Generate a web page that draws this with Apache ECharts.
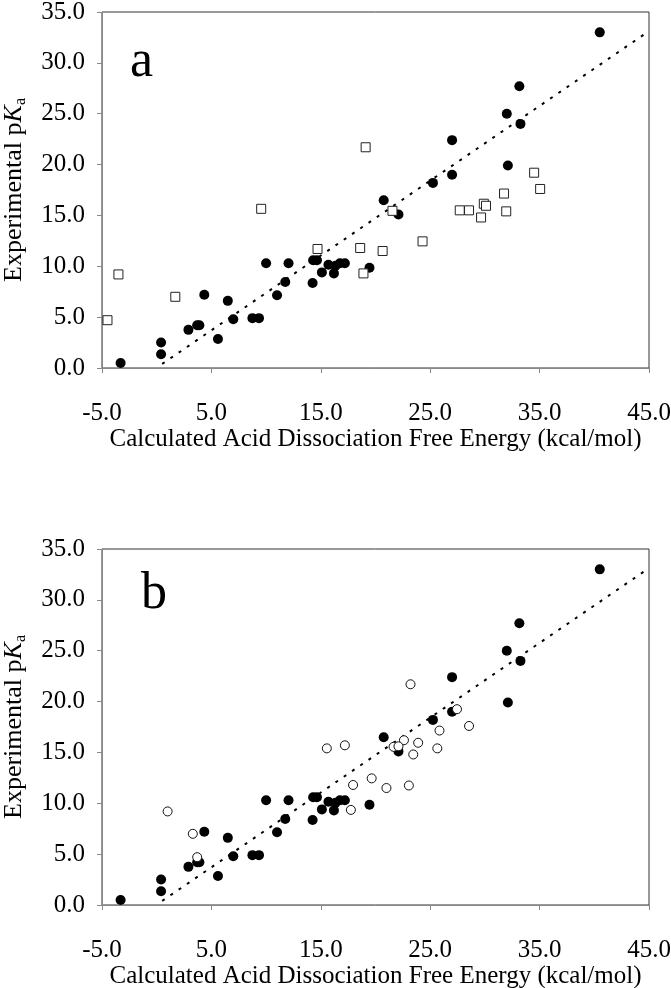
<!DOCTYPE html>
<html><head><meta charset="utf-8">
<script src="https://cdn.jsdelivr.net/npm/echarts@6/dist/echarts.min.js"></script>
<style>html,body{margin:0;padding:0;background:#fff}#c{width:671px;height:988px}</style>
</head><body><div id="c"></div>
<script>
// ---- data ----
const xTickValues = [-5, 5, 15, 25, 35, 45];
const yTickValues = [0, 5, 10, 15, 20, 25, 30, 35];
// filled circles (same in both panels)
const filledX = [-3.3, 0.4, 0.4, 2.9, 3.7, 3.9, 4.35, 5.6, 6.5, 7.0, 8.75, 9.35, 10.0, 11.0, 11.75, 12.05, 14.25, 14.3, 14.65, 15.1, 15.7, 16.2, 16.35, 16.75, 17.2, 19.45, 20.75, 22.1, 25.25, 27.0, 27.0, 32.0, 32.1, 33.15, 33.25, 40.5];
const filledY = [0.5, 2.5, 1.35, 3.75, 4.2, 4.2, 7.2, 2.85, 6.6, 4.8, 4.9, 4.9, 10.3, 7.15, 8.45, 10.3, 8.35, 10.6, 10.6, 9.4, 10.15, 9.3, 10.05, 10.3, 10.3, 9.85, 16.5, 15.1, 18.2, 19.0, 22.4, 25.0, 19.9, 27.7, 24.0, 33.0];
// panel a: open squares
const squareX = [-4.5, -3.5, 1.7, 9.55, 14.7, 18.6, 18.9, 19.1, 21.55, 24.3, 20.65, 27.7, 28.55, 29.9, 30.1, 29.65, 31.75, 31.95, 34.5, 35.05];
const squareY = [4.7, 9.2, 7.0, 15.65, 11.7, 11.8, 9.3, 21.7, 15.45, 12.45, 11.5, 15.5, 15.5, 16.15, 15.95, 14.8, 17.15, 15.4, 19.2, 17.6];
// panel b: open circles
const openX = [3.7, 1.0, 3.3, 15.55, 17.2, 17.95, 17.75, 19.65, 23.2, 27.45, 28.55, 25.85, 22.6, 23.9, 21.65, 22.1, 23.45, 25.65, 21.0, 23.05];
const openY = [4.7, 9.2, 7.0, 15.4, 15.7, 11.8, 9.35, 12.45, 21.7, 19.25, 17.6, 17.15, 16.2, 15.95, 15.55, 15.6, 14.8, 15.4, 11.5, 11.75];
// fitted (dotted) line end points
const fitX = [0.5, 44.7];
const fitY = [0.4, 32.9];
const panelLabels = ['a', 'b'];
const xTitle = 'Calculated Acid Dissociation Free Energy (kcal/mol)';

// ---- chart ----
const FONT = '"Liberation Serif", "Times New Roman", serif';
const zip = (xs, ys) => xs.map((x, i) => [x, ys[i]]);
const chart = echarts.init(document.getElementById('c'), null, {renderer: 'canvas'});

const grids = [
  {left: 102, top: 12, width: 547, height: 356},
  {left: 102, top: 549, width: 547, height: 356}
].map(g => Object.assign(g, {show: true, containLabel: false, outerBoundsMode: 'none', borderColor: '#333', borderWidth: 1, backgroundColor: 'transparent'}));

const xAxes = [0, 1].map(i => ({
  type: 'value', gridIndex: i, min: -5, max: 45,
  axisLine: {show: true, onZero: false, lineStyle: {color: '#888', width: 1}},
  axisTick: {show: true, customValues: xTickValues, length: 5, lineStyle: {color: '#888'}},
  axisLabel: {customValues: xTickValues, formatter: v => Number(v).toFixed(1), fontSize: 25, color: '#000', fontFamily: FONT, margin: 33},
  splitLine: {show: false},
  name: xTitle, nameLocation: 'middle', nameGap: 58,
  nameTextStyle: {fontSize: 25, color: '#000', fontFamily: FONT}
}));

const yAxes = [0, 1].map(i => ({
  type: 'value', gridIndex: i, min: 0, max: 35, interval: 5,
  axisLine: {show: true, onZero: false, lineStyle: {color: '#888', width: 1}},
  axisTick: {show: true, length: 5, lineStyle: {color: '#888'}},
  axisLabel: {formatter: v => Number(v).toFixed(1), fontSize: 25, color: '#000', fontFamily: FONT, margin: 17},
  splitLine: {show: false},
  name: '{n|Experimental p}{i|K}{s|a}', nameLocation: 'middle', nameGap: 73, nameRotate: 90,
  nameTextStyle: {
    color: '#000', fontFamily: FONT, fontSize: 26,
    rich: {
      n: {fontSize: 26, fontFamily: FONT, color: '#000', lineHeight: 30},
      i: {fontSize: 26, fontFamily: FONT, color: '#000', fontStyle: 'italic', lineHeight: 30},
      s: {fontSize: 16, fontFamily: FONT, color: '#000', lineHeight: 16, verticalAlign: 'bottom'}
    }
  }
}));

const filledSeries = i => ({
  type: 'scatter', xAxisIndex: i, yAxisIndex: i, data: zip(filledX, filledY),
  symbol: 'circle', symbolSize: 10, itemStyle: {color: '#000', opacity: 1}, z: 3
});
const fitSeries = i => ({
  type: 'line', xAxisIndex: i, yAxisIndex: i, data: zip(fitX, fitY),
  symbol: 'none', lineStyle: {color: '#000', width: 2, type: [3, 7]}, z: 2, silent: true
});

const series = [
  fitSeries(0),
  filledSeries(0),
  {type: 'scatter', xAxisIndex: 0, yAxisIndex: 0, data: zip(squareX, squareY),
   symbol: 'rect', symbolSize: 9, itemStyle: {color: '#fff', borderColor: '#222', borderWidth: 1, opacity: 1}, z: 4},
  fitSeries(1),
  filledSeries(1),
  {type: 'scatter', xAxisIndex: 1, yAxisIndex: 1, data: zip(openX, openY),
   symbol: 'circle', symbolSize: 9, itemStyle: {color: '#fff', borderColor: '#111', borderWidth: 1, opacity: 1}, z: 4}
];

chart.setOption({
  animation: false,
  backgroundColor: '#fff',
  grid: grids,
  xAxis: xAxes,
  yAxis: yAxes,
  series: series,
  graphic: [
    {type: 'text', left: 130, top: 36, style: {text: panelLabels[0], font: '52px ' + FONT, fill: '#000'}},
    {type: 'text', left: 141, top: 568, style: {text: panelLabels[1], font: '52px ' + FONT, fill: '#000'}}
  ]
});
</script>
</body></html>
